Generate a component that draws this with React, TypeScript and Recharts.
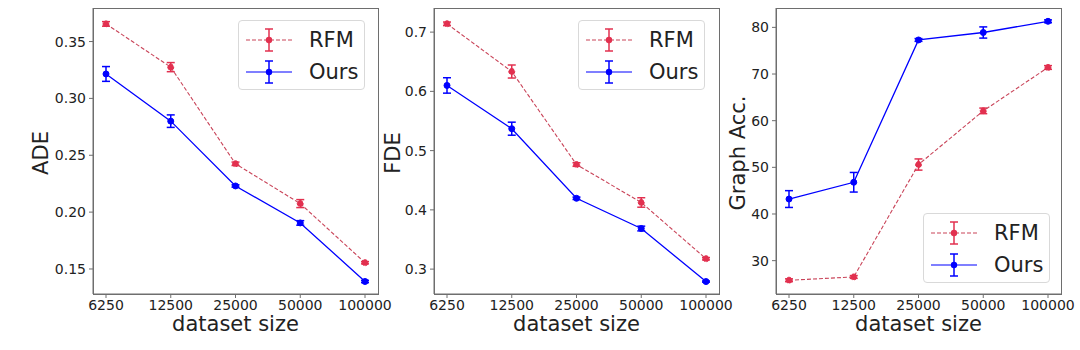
import { LineChart, Line, XAxis, YAxis, ErrorBar } from 'recharts'

const sizes = ['6250', '12500', '25000', '50000', '100000']

const adeRfm = [0.3655, 0.3275, 0.2425, 0.2075, 0.1555]
const adeRfmErr = [0.002, 0.004, 0.0015, 0.0035, 0.001]
const adeOurs = [0.3215, 0.28, 0.223, 0.1905, 0.139]
const adeOursErr = [0.0065, 0.0055, 0.001, 0.002, 0.001]

const fdeRfm = [0.714, 0.6335, 0.4765, 0.4125, 0.3175]
const fdeRfmErr = [0.003, 0.011, 0.003, 0.008, 0.002]
const fdeOurs = [0.61, 0.537, 0.4195, 0.3685, 0.279]
const fdeOursErr = [0.013, 0.011, 0.002, 0.004, 0.001]

const accRfm = [25.8, 26.5, 50.6, 62.1, 71.4]
const accRfmErr = [0.3, 0.3, 1.2, 0.6, 0.4]
const accOurs = [43.2, 46.8, 77.3, 78.9, 81.3]
const accOursErr = [1.8, 2.1, 0.3, 1.2, 0.3]

const RED = '#e2304f'
const RED_LINE = '#c94459'
const BLUE = '#0000ff'
const FONT = '"DejaVu Sans", sans-serif'
const TEXT = '#222222'
const SPINE = '#6e6e6e'

const build = (rfm: number[], rfmErr: number[], ours: number[], oursErr: number[]) =>
  sizes.map((size, i) => ({
    size,
    rfm: rfm[i],
    rfmErr: rfmErr[i],
    ours: ours[i],
    oursErr: oursErr[i],
  }))

interface PanelProps {
  left: number
  data: ReturnType<typeof build>
  yLabel: string
  yLabelGap: number
  domain: [number, number]
  ticks: number[]
  digits: number
  legendTop: number
  legendLeft: number
}

const LegendIcon = ({ color, lineColor, dashed }: { color: string; lineColor: string; dashed?: boolean }) => (
  <svg width={46} height={26} style={{ display: 'block' }}>
    <line x1={0} y1={13} x2={46} y2={13} stroke={lineColor} strokeWidth={1.2}
      strokeDasharray={dashed ? '4 2' : undefined} />
    <line x1={23} y1={2} x2={23} y2={24} stroke={color} strokeWidth={1.5} />
    <line x1={19} y1={2} x2={27} y2={2} stroke={color} strokeWidth={1.5} />
    <line x1={19} y1={24} x2={27} y2={24} stroke={color} strokeWidth={1.5} />
    <circle cx={23} cy={13} r={3.2} fill={color} />
  </svg>
)

function PanelLegend({ top, left }: { top: number; left: number }) {
  const rows = [
    { name: 'RFM', color: RED, lineColor: RED_LINE, dashed: true },
    { name: 'Ours', color: BLUE, lineColor: BLUE, dashed: false },
  ]
  return (
    <div
      style={{
        position: 'absolute',
        top,
        left,
        width: 127,
        height: 70,
        boxSizing: 'border-box',
        border: '1px solid #d9d9d9',
        borderRadius: 4,
        background: 'rgba(255,255,255,0.8)',
        padding: '3px 0 0 7px',
      }}
    >
      {rows.map((r) => (
        <div key={r.name} style={{ display: 'flex', alignItems: 'center', height: 32 }}>
          <LegendIcon color={r.color} lineColor={r.lineColor} dashed={r.dashed} />
          <span style={{ marginLeft: 17, fontFamily: FONT, fontSize: 21, color: TEXT }}>
            {r.name}
          </span>
        </div>
      ))}
    </div>
  )
}

function Panel({ left, data, yLabel, yLabelGap, domain, ticks, digits, legendTop, legendLeft }: PanelProps) {
  const yw = 80
  const plotW = 285
  const padR = 30
  return (
    <div style={{ position: 'absolute', left, top: 0, width: yw + plotW + padR, height: 350 }}>
      <LineChart
        width={yw + plotW + padR}
        height={350}
        data={data}
        margin={{ top: 8, right: padR, left: 0, bottom: 26 }}
      >
        <XAxis
          dataKey="size"
          type="category"
          padding={{ left: 13, right: 13 }}
          tickSize={4}
          tickMargin={2}
          stroke={SPINE}
          tick={{ fill: TEXT, fontSize: 14, fontFamily: FONT }}
          interval={0}
          height={30}
          label={{
            content: ({ viewBox }: any) => (
              <text
                x={viewBox.x + viewBox.width / 2}
                y={viewBox.y + 37}
                textAnchor="middle"
                fontSize={21}
                fontFamily={FONT}
                fill={TEXT}
              >
                dataset size
              </text>
            ),
          }}
        />
        <YAxis
          width={yw}
          domain={domain}
          ticks={ticks}
          type="number"
          allowDataOverflow
          tickSize={4}
          tickMargin={3}
          stroke={SPINE}
          tick={{ fill: TEXT, fontSize: 14, fontFamily: FONT }}
          tickFormatter={(v: number) => v.toFixed(digits)}
          label={{
            content: ({ viewBox }: any) => {
              const x = viewBox.x + viewBox.width - yLabelGap
              const y = viewBox.y + viewBox.height / 2 + 2
              return (
                <text
                  x={x}
                  y={y}
                  transform={`rotate(-90 ${x} ${y})`}
                  textAnchor="middle"
                  fontSize={21}
                  fontFamily={FONT}
                  fill={TEXT}
                >
                  {yLabel}
                </text>
              )
            },
          }}
        />
        <Line
          dataKey="rfm"
          stroke={RED_LINE}
          strokeWidth={1.1}
          strokeDasharray="4 2"
          dot={{ r: 3, fill: RED, stroke: RED, strokeWidth: 1 }}
          isAnimationActive={false}
        >
          <ErrorBar dataKey="rfmErr" direction="y" width={4} stroke={RED} strokeWidth={1.5} />
        </Line>
        <Line
          dataKey="ours"
          stroke={BLUE}
          strokeWidth={1.3}
          dot={{ r: 3, fill: BLUE, stroke: BLUE, strokeWidth: 1 }}
          isAnimationActive={false}
        >
          <ErrorBar dataKey="oursErr" direction="y" width={4} stroke={BLUE} strokeWidth={1.5} />
        </Line>
      </LineChart>
      {/* axes frame (top and right spines) */}
      <div
        style={{
          position: 'absolute',
          left: yw,
          top: 8,
          width: plotW + 1,
          height: 287,
          boxSizing: 'border-box',
          border: `1px solid ${SPINE}`,
          pointerEvents: 'none',
        }}
      />
      <PanelLegend top={legendTop} left={legendLeft} />
    </div>
  )
}

export default function App() {
  return (
    <div style={{ position: 'absolute', left: 0, top: 0, width: 1080, height: 350, background: '#fff' }}>
      <Panel
        left={13}
        data={build(adeRfm, adeRfmErr, adeOurs, adeOursErr)}
        yLabel="ADE"
        yLabelGap={45}
        domain={[0.128, 0.3795]}
        ticks={[0.15, 0.2, 0.25, 0.3, 0.35]}
        digits={2}
        legendTop={20}
        legendLeft={238 - 13}
      />
      <Panel
        left={354}
        data={build(fdeRfm, fdeRfmErr, fdeOurs, fdeOursErr)}
        yLabel="FDE"
        yLabelGap={34}
        domain={[0.258, 0.7407]}
        ticks={[0.3, 0.4, 0.5, 0.6, 0.7]}
        digits={1}
        legendTop={20}
        legendLeft={578 - 354}
      />
      <Panel
        left={696}
        data={build(accRfm, accRfmErr, accOurs, accOursErr)}
        yLabel="Graph Acc."
        yLabelGap={31}
        domain={[22.85, 84.15]}
        ticks={[30, 40, 50, 60, 70, 80]}
        digits={0}
        legendTop={213}
        legendLeft={923 - 696}
      />
    </div>
  )
}
